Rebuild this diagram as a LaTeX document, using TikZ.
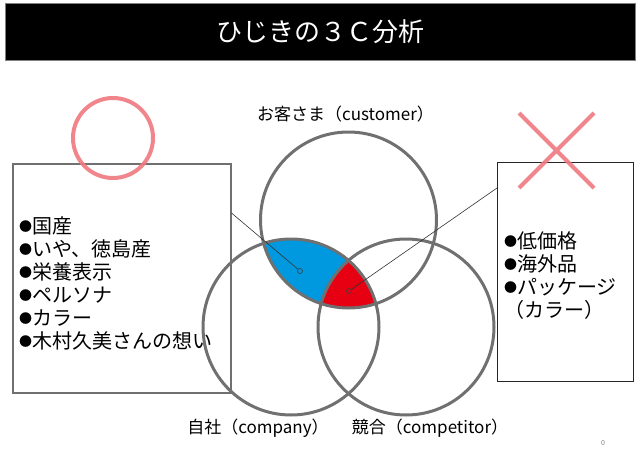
\documentclass[tikz,border=0pt]{standalone}
\usepackage{fontspec}
\setmainfont{Noto Sans CJK JP}
\usepackage{xcolor}
\usetikzlibrary{positioning, backgrounds}
\definecolor{venngray}{HTML}{707070}
\definecolor{lensblue}{HTML}{0098DE}
\definecolor{corered}{HTML}{E60012}
\definecolor{markpink}{HTML}{F07880}
\newcommand{\itemdot}{\raisebox{2pt}{\fontsize{13}{13}\selectfont ●}}
\tikzset{
  venn/.style={circle, draw=venngray, line width=3pt, minimum size=176pt, inner sep=0pt},
  setlabel/.style={font=\fontsize{17}{20}\selectfont, inner sep=2pt},
  itembox/.style={anchor=north west},
  itemtext/.style={align=left, anchor=west, font=\fontsize{20}{23}\selectfont, inner sep=0pt},
  callout/.style={draw=black!80, line width=0.6pt},
  pindot/.style={circle, draw=black!75, line width=0.6pt, inner sep=0pt, minimum size=5pt},
  markstroke/.style={draw=markpink, line width=4pt, opacity=0.9}
}

\begin{document}
\begin{tikzpicture}[x=1pt, y=-1pt]
\useasboundingbox (0,0) rectangle (640,474);

% Title bar
\node[fill=black, draw=gray, minimum width=630pt, minimum height=57pt, text=white,
      font=\fontsize{26}{30}\selectfont] (title) at (320,31.5) {ひじきの３Ｃ分析};

% Three circles
\node[venn] (customer) at (348.5,220) {};
\node[venn] (company) at (291,327) {};
\node[venn] (competitor) at (406,327) {};

% Overlaps
\begin{scope}[on background layer]
  \clip (customer.center) circle (88pt);
  \clip (company.center) circle (88pt);
  \fill[lensblue] (company.center) circle (88pt);
  \clip (competitor.center) circle (88pt);
  \fill[corered] (competitor.center) circle (88pt);
\end{scope}

% Set labels
\node[setlabel, above=6pt of customer, xshift=-3pt] (custlabel) {お客さま（customer）};
\node[setlabel] (complabel) at (258,428) {自社（company）};
\node[setlabel] (rivallabel) at (430,428) {競合（competitor）};

% Item boxes
\node[itembox, draw=venngray, line width=1.5pt, minimum width=218pt, minimum height=229pt]
  (leftbox) at (12,163) {};
\node[itemtext, right=7pt of leftbox.west, yshift=-5pt] (leftitems)
  {\itemdot{}国産\\\itemdot{}いや、徳島産\\\itemdot{}栄養表示\\\itemdot{}ペルソナ\\\itemdot{}カラー\\\itemdot{}木村久美さんの想い};
\node[itembox, draw=black!85, line width=0.8pt, minimum width=136pt, minimum height=219pt]
  (rightbox) at (497,162) {};
\node[itemtext, right=7pt of rightbox.west, yshift=-4pt] (rightitems)
  {\itemdot{}低価格\\\itemdot{}海外品\\\itemdot{}パッケージ\\（カラー）};

% Pins and callouts
\node[pindot, fill=lensblue] (bluedot) at (300,271) {};
\node[pindot, fill=corered] (reddot) at (349,291) {};
\draw[callout] ([yshift=-50pt]leftbox.north east) -- (bluedot);
\draw[callout] ([yshift=-26pt]rightbox.north west) -- (reddot);

% Marks
\node[circle, markstroke, minimum size=80pt, inner sep=0pt] (goodmark) at (113,138) {};
\draw[markstroke] (519,113) -- (594,188) (594,113) -- (519,188);

% Page number
\node[font=\fontsize{7}{8}\selectfont, text=gray] (pagenum) at (603,443) {0};

\end{tikzpicture}
\end{document}
